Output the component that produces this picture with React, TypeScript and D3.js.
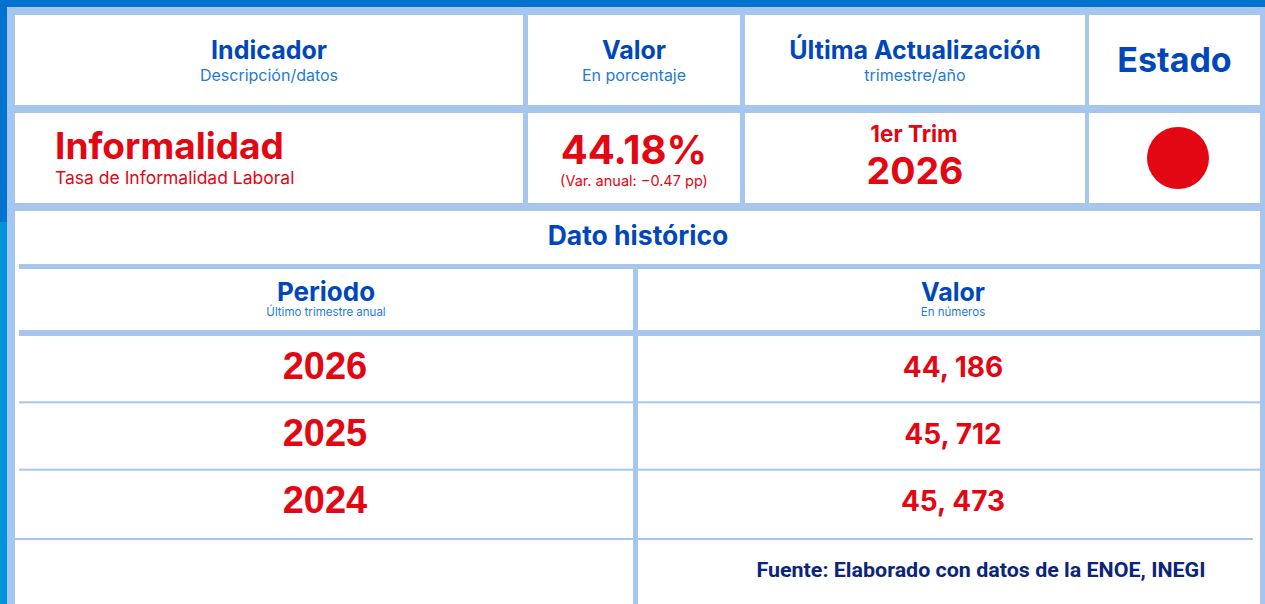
import React from "react";
import * as d3 from "d3";

const headerTitles = ["Indicador", "Valor", "Última Actualización", "Estado"];
const headerSubtitles = ["Descripción/datos", "En porcentaje", "trimestre/año", ""];
const indicatorName = "Informalidad";
const indicatorDesc = "Tasa de Informalidad Laboral";
const currentValue = [44.18];
const annualVariation = [-0.47];
const updateQuarter = "1er Trim";
const updateYear = "2026";
const periods = ["2026", "2025", "2024"];
const periodValues = [44186, 45712, 45473];
const sourceNote = "Fuente: Elaborado con datos de la ENOE, INEGI";

const W = 1265;
const H = 604;
const DARK = "#0073CF";
const DARK2 = "#0095DA";
const LIGHT = "#A6C6EE";
const BLUE = "#0047BA";
const SUB = "#1F7AD6";
const RED = "#E30613";
const NAVY = "#0B2578";
const FONT = "Inter, 'DejaVu Sans', sans-serif";

export default function App() {
  const topCols = [
    [15, 523],
    [528, 740],
    [745, 1085],
    [1089, 1260],
  ];
  const rowY = d3.scaleBand<string>().domain(periods).range([336, 538]);
  const fmt = (v: number) => d3.format(",")(v).replace(",", ", ");
  const pct = d3.format(".2f");

  return (
    <svg
      width={W}
      height={H}
      style={{ position: "absolute", left: 0, top: 0, background: "#fff" }}
    >
      <rect x={0} y={0} width={W} height={H} fill={LIGHT} />
      <rect x={0} y={0} width={W} height={7} fill={DARK} />
      <rect x={0} y={0} width={7} height={222} fill={DARK} />
      <rect x={0} y={222} width={7} height={H - 222} fill={DARK2} />

      {topCols.map(([x0, x1], i) => (
        <g key={i}>
          <rect x={x0} y={15} width={x1 - x0} height={90} fill="#fff" />
          <rect x={x0} y={113} width={x1 - x0} height={90} fill="#fff" />
        </g>
      ))}

      <rect x={15} y={211} width={1245} height={H - 211} fill="#fff" />
      <rect x={19} y={264} width={1241} height={5} fill={LIGHT} />
      <rect x={19} y={330} width={1241} height={6} fill={LIGHT} />
      <rect x={633} y={264} width={5} height={H - 264} fill={LIGHT} />
      {periods.slice(1).map((p) => (
        <rect key={p} x={19} y={(rowY(p) as number) - 2} width={1241} height={2} fill={LIGHT} />
      ))}
      <rect x={15} y={538} width={1238} height={2} fill={LIGHT} />

      {topCols.map(([x0, x1], i) =>
        i < 3 ? (
          <g key={"h" + i} fontFamily={FONT} textAnchor="middle">
            <text x={(x0 + x1) / 2} y={59} fontSize={25} fontWeight={700} fill={BLUE}>
              {headerTitles[i]}
            </text>
            <text x={(x0 + x1) / 2} y={81} fontSize={16} fill={SUB}>
              {headerSubtitles[i]}
            </text>
          </g>
        ) : (
          <text
            key={"h" + i}
            x={(x0 + x1) / 2}
            y={72}
            fontFamily={FONT}
            textAnchor="middle"
            fontSize={34}
            fontWeight={700}
            fill={BLUE}
          >
            {headerTitles[i]}
          </text>
        )
      )}

      <g fontFamily={FONT} fill={RED}>
        <text x={55} y={159} fontSize={37} fontWeight={700}>
          {indicatorName}
        </text>
        <text x={55} y={184} fontSize={17.5}>
          {indicatorDesc}
        </text>
        <text x={634} y={164} fontSize={40} fontWeight={700} textAnchor="middle">
          {pct(currentValue[0])}%
        </text>
        <text x={634} y={186} fontSize={14.5} textAnchor="middle">
          (Var. anual: {pct(annualVariation[0])} pp)
        </text>
        <text x={914} y={142} fontSize={22.5} fontWeight={700} textAnchor="middle">
          {updateQuarter}
        </text>
        <text x={915} y={184} fontSize={37.5} fontWeight={700} textAnchor="middle">
          {updateYear}
        </text>
      </g>
      <circle cx={1178} cy={158} r={31} fill={RED} />

      <text x={638} y={245} fontFamily={FONT} fontSize={26.5} fontWeight={700} fill={BLUE} textAnchor="middle">
        Dato histórico
      </text>
      <g fontFamily={FONT} textAnchor="middle">
        <text x={326} y={301} fontSize={26} fontWeight={700} fill={BLUE}>
          Periodo
        </text>
        <text x={326} y={316} fontSize={11.5} fill={SUB}>
          Último trimestre anual
        </text>
        <text x={953} y={301} fontSize={25} fontWeight={700} fill={BLUE}>
          Valor
        </text>
        <text x={953} y={316} fontSize={11.5} fill={SUB}>
          En números
        </text>
      </g>
      {periods.map((p, i) => {
        const cy = (rowY(p) as number) + rowY.bandwidth() / 2;
        return (
          <g key={p} fill={RED} textAnchor="middle" fontWeight={700}>
            <text x={325} y={cy + 9} fontSize={38} fontFamily="'Liberation Sans', Arial, sans-serif">
              {p}
            </text>
            <text x={953} y={cy + 7} fontSize={28} fontFamily={FONT}>
              {fmt(periodValues[i])}
            </text>
          </g>
        );
      })}
      <text
        x={981}
        y={577}
        fontFamily="Roboto, sans-serif"
        fontSize={20}
        fontWeight={700}
        fill={NAVY}
        textAnchor="middle"
        textLength={449}
        lengthAdjust="spacingAndGlyphs"
      >
        {sourceNote}
      </text>
    </svg>
  );
}
